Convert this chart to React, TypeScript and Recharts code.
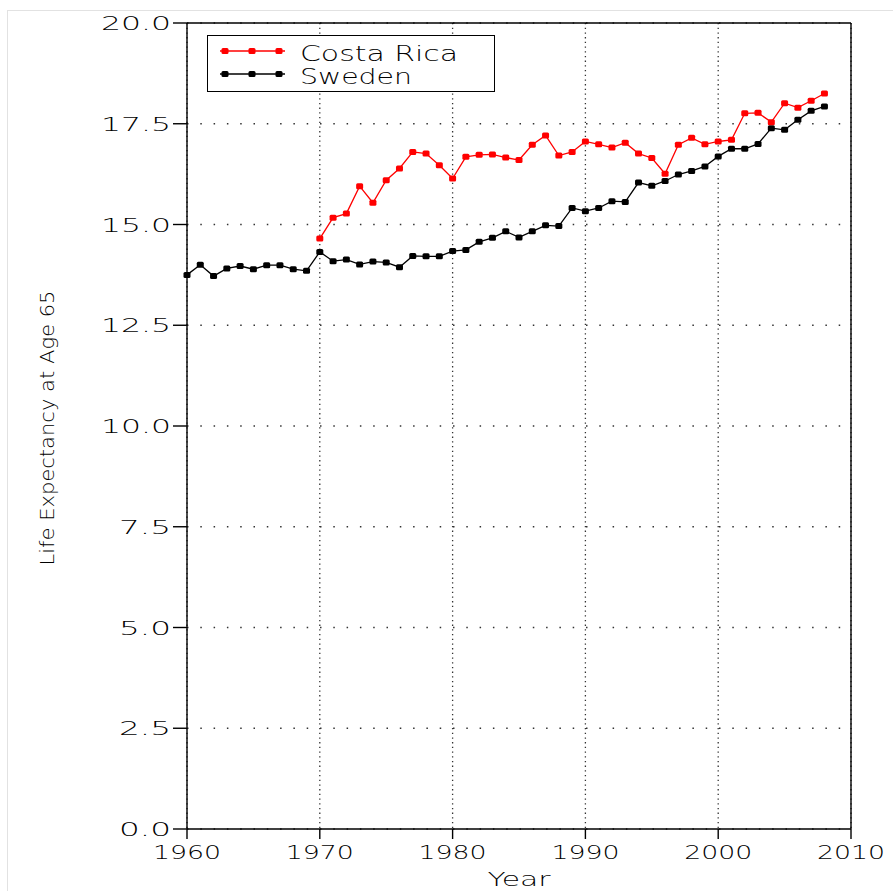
import React from 'react';
import { LineChart, Line, XAxis, YAxis, CartesianGrid, ReferenceLine, Legend } from 'recharts';

const years = [
  1960, 1961, 1962, 1963, 1964, 1965, 1966, 1967, 1968, 1969,
  1970, 1971, 1972, 1973, 1974, 1975, 1976, 1977, 1978, 1979,
  1980, 1981, 1982, 1983, 1984, 1985, 1986, 1987, 1988, 1989,
  1990, 1991, 1992, 1993, 1994, 1995, 1996, 1997, 1998, 1999,
  2000, 2001, 2002, 2003, 2004, 2005, 2006, 2007, 2008,
];

const swedenValues = [
  13.75, 14.0, 13.72, 13.91, 13.97, 13.89, 13.99, 13.99, 13.89, 13.85,
  14.32, 14.09, 14.13, 14.01, 14.08, 14.06, 13.94, 14.22, 14.21, 14.21,
  14.34, 14.37, 14.57, 14.67, 14.83, 14.68, 14.83, 14.98, 14.96, 15.41,
  15.33, 15.41, 15.58, 15.56, 16.04, 15.96, 16.08, 16.24, 16.33, 16.44,
  16.69, 16.88, 16.88, 17.0, 17.39, 17.35, 17.6, 17.82, 17.93,
];

const costaRicaStartYear = 1970;
const costaRicaValues = [
  14.65, 15.17, 15.27, 15.95, 15.54, 16.1, 16.39, 16.8, 16.76, 16.47,
  16.14, 16.68, 16.73, 16.74, 16.66, 16.6, 16.98, 17.21, 16.71, 16.8,
  17.06, 16.99, 16.91, 17.03, 16.76, 16.65, 16.26, 16.98, 17.15, 16.99,
  17.06, 17.1, 17.76, 17.77, 17.54, 18.01, 17.9, 18.07, 18.25,
];

const xTicks = [1960, 1970, 1980, 1990, 2000, 2010];
const yTicks = [0, 2.5, 5, 7.5, 10, 12.5, 15, 17.5, 20];

const seriesNames = { costaRica: 'Costa Rica', sweden: 'Sweden' };
const xLabel = 'Year';
const yLabel = 'Life Expectancy at Age 65';

const data = years.map((year, i) => {
  const ci = year - costaRicaStartYear;
  return {
    year,
    sweden: swedenValues[i],
    costaRica: ci >= 0 && ci < costaRicaValues.length ? costaRicaValues[ci] : null,
  };
});

const FONT = '"DejaVu Sans", sans-serif';

const makeDot = (color: string) => (props: any) => {
  const { cx, cy, value, index } = props;
  if (value == null || cx == null || cy == null) return <g key={`e-${index}`} />;
  return <rect key={`d-${index}`} x={cx - 3.5} y={cy - 3} width={7} height={6} rx={1.5} fill={color} />;
};

const YTick = (props: any) => {
  const { x, y, payload } = props;
  const label = Number(payload.value).toFixed(1);
  const len = label.length === 4 ? 70 : 52;
  return (
    <text x={x} y={y} dy="0.36em" textAnchor="end" fontFamily={FONT} fontWeight={200} fontSize={20}
      fill="#000" textLength={len} lengthAdjust="spacingAndGlyphs">
      {label}
    </text>
  );
};

const XTick = (props: any) => {
  const { x, y, payload } = props;
  return (
    <text x={x} y={y} dy="0.71em" textAnchor="middle" fontFamily={FONT} fontWeight={200} fontSize={20}
      fill="#000" textLength={68} lengthAdjust="spacingAndGlyphs">
      {String(payload.value)}
    </text>
  );
};

const LegendContent = () => {
  const rows = [
    { name: seriesNames.costaRica, color: '#ff0000', ly: 15, ty: 25 },
    { name: seriesNames.sweden, color: '#000000', ly: 38, ty: 48 },
  ];
  return (
    <div style={{ width: 288, height: 57, border: '1.5px solid #000', background: '#fff', boxSizing: 'border-box' }}>
      <svg width={286} height={55} style={{ display: 'block' }}>
        {rows.map((r) => (
          <g key={r.name}>
            <line x1={12} x2={77} y1={r.ly} y2={r.ly} stroke={r.color} strokeWidth={1.3} />
            {[17, 44, 71].map((mx) => (
              <rect key={mx} x={mx - 3.5} y={r.ly - 3} width={7} height={6} rx={1.5} fill={r.color} />
            ))}
            <text x={92} y={r.ty} fontFamily={FONT} fontWeight={200} fontSize={21} fill="#000"
              textLength={r.name === seriesNames.costaRica ? 158 : 112} lengthAdjust="spacingAndGlyphs">
              {r.name}
            </text>
          </g>
        ))}
      </svg>
    </div>
  );
};

export default function App() {
  return (
    <div style={{ position: 'absolute', left: 0, top: 0, width: 893, height: 891, background: '#fff', overflow: 'hidden' }}>
      <div style={{ position: 'absolute', left: 7, top: 10, width: 886, height: 881, borderLeft: '1px solid #e2e2e2', borderTop: '1px solid #e2e2e2' }} />
      <LineChart width={893} height={891} data={data} margin={{ top: 23, right: 42, bottom: 0, left: 0 }}>
        <CartesianGrid horizontal vertical={false} stroke="#333" strokeWidth={1.5} strokeDasharray="1.5 11.8" />
        <CartesianGrid horizontal={false} vertical stroke="#333" strokeWidth={1.3} strokeDasharray="1.3 3.4" />
        <XAxis
          dataKey="year"
          type="number"
          domain={[1960, 2010]}
          ticks={xTicks}
          height={62}
          tickSize={10}
          tickMargin={6}
          axisLine={{ stroke: '#000', strokeWidth: 1.4 }}
          tickLine={{ stroke: '#000', strokeWidth: 1.4 }}
          tick={<XTick />}
          label={{
            content: (p: any) => {
              const vb = p.viewBox;
              return (
                <text x={vb.x + vb.width / 2} y={vb.y + 57} textAnchor="middle" fontFamily={FONT} fontWeight={200}
                  fontSize={20} fill="#000" textLength={63} lengthAdjust="spacingAndGlyphs">
                  {xLabel}
                </text>
              );
            },
          }}
        />
        <YAxis
          type="number"
          domain={[0, 20]}
          ticks={yTicks}
          width={187}
          tickSize={14}
          tickMargin={2}
          axisLine={{ stroke: '#000', strokeWidth: 1.4 }}
          tickLine={{ stroke: '#000', strokeWidth: 1.4 }}
          tick={<YTick />}
          label={{
            content: (p: any) => {
              const vb = p.viewBox;
              const cx = vb.x + 47;
              const cy = vb.y + vb.height / 2 + 2;
              return (
                <text x={cx} y={cy} dy="0.36em" textAnchor="middle" transform={`rotate(-90 ${cx} ${cy})`}
                  fontFamily={FONT} fontWeight={200} fontSize={20} fill="#000" textLength={275}
                  lengthAdjust="spacingAndGlyphs">
                  {yLabel}
                </text>
              );
            },
          }}
        />
        <ReferenceLine y={20} stroke="#000" strokeWidth={1.4} />
        <ReferenceLine x={2010} stroke="#000" strokeWidth={1.4} />
        <Legend layout="horizontal" verticalAlign="middle" align="center"
          wrapperStyle={{ left: 207, top: 35, width: 288, height: 57 }} content={<LegendContent />} />
        <Line dataKey="sweden" name={seriesNames.sweden} stroke="#000" strokeWidth={1.3}
          dot={makeDot('#000')} activeDot={false} isAnimationActive={false} connectNulls={false} />
        <Line dataKey="costaRica" name={seriesNames.costaRica} stroke="#ff0000" strokeWidth={1.3}
          dot={makeDot('#ff0000')} activeDot={false} isAnimationActive={false} connectNulls={false} />
      </LineChart>
    </div>
  );
}
